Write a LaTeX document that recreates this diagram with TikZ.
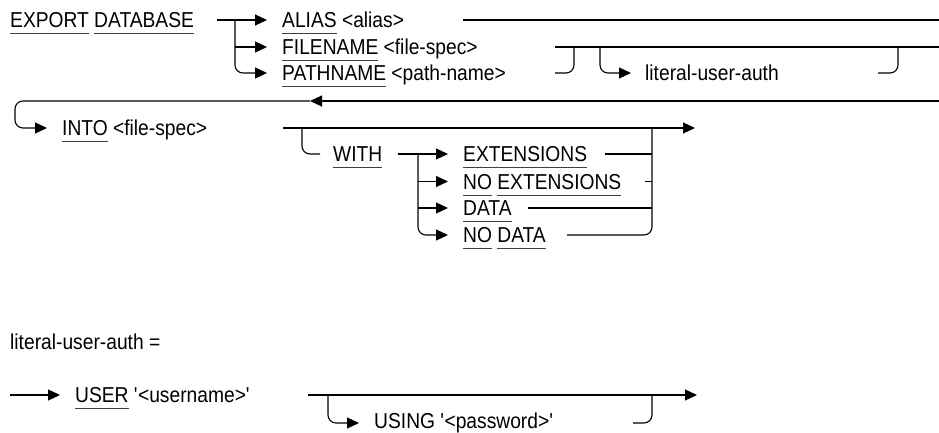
\documentclass[tikz,border=0pt]{standalone}
\usepackage{fontspec}
\setmainfont[FakeStretch=0.89]{Liberation Sans}
\usetikzlibrary{arrows.meta}
% keyword with a thin rule under it
\newcommand\kw[1]{\setbox0=\hbox{#1}\rlap{\color{black!75}\rule[-6.5pt]{\wd0}{0.9pt}}\box0\relax}
\newcommand\q{\textquotesingle}
\tikzset{
  lbl/.style={anchor=base west, inner sep=0pt, font=\fontsize{21.6}{24}\selectfont},
  rail/.style={line width=1.1pt, rounded corners=8pt},
  arr/.style={-{Triangle[length=12pt,width=11pt]}},
}
\begin{document}
\begin{tikzpicture}[x=1pt,y=-1pt]
\useasboundingbox (0,0) rectangle (939,433);

% ---------- EXPORT DATABASE ----------
\node[lbl] (exp) at (10,27.5) {\kw{EXPORT} \kw{DATABASE}};
\coordinate (s0) at (217,20);
\coordinate (b1) at (235,20);
\coordinate (b2) at (235,47);
\coordinate (a1) at (267,20);
\coordinate (a2) at (267,47);
\coordinate (a3) at (267,73);
\draw[rail,arr] (s0) -- (a1);
\draw[rail,arr] (b2) -- (a2);
\draw[rail,arr] (b1) |- (a3);

\node[lbl] (alias) at (282,27.5) {\kw{ALIAS} <alias>};
\node[lbl] (fname) at (282,54.5) {\kw{FILENAME} <file-spec>};
\node[lbl] (pname) at (282,80.5) {\kw{PATHNAME} <path-name>};

\coordinate (e1) at (463,20);  \coordinate (e1r) at (939,20);
\coordinate (e2) at (555,47);  \coordinate (e2r) at (939,47);
\coordinate (e3) at (555,73);  \coordinate (j3) at (574,47);
\draw[rail] (e1) -- (e1r);
\draw[rail] (e2) -- (e2r);
\draw[rail] (e3) -| (j3);

% optional literal-user-auth
\coordinate (b4) at (600,47);
\coordinate (a4) at (631,73);
\draw[rail,arr] (b4) |- (a4);
\node[lbl] (lua) at (645,80.5) {literal-user-auth};
\coordinate (e4) at (878,73);
\coordinate (j4) at (898,47);
\draw[rail] (e4) -| (j4);

% ---------- return line ----------
\coordinate (r0) at (939,101);
\coordinate (rm) at (310,101);
\coordinate (rc) at (15,128);
\coordinate (a5) at (47,128);
\draw[rail,arr] (r0) -- (rm);
\draw[rail,arr] (rm) -| (rc) -- (a5);

% ---------- INTO ----------
\node[lbl] (into) at (62,135.5) {\kw{INTO} <file-spec>};
\coordinate (e5) at (283,128);
\coordinate (a6) at (695,128);
\draw[rail,arr] (e5) -- (a6);
\coordinate (b6) at (302,128);
\coordinate (a7) at (320,154);
\draw[rail] (b6) |- (a7);

\node[lbl] (with) at (333,161.5) {\kw{WITH}};
\coordinate (e7) at (398,154);
\coordinate (b8) at (418,154);
\coordinate (b9) at (418,181.5);
\coordinate (b10) at (418,208);
\coordinate (a8) at (448,154);
\coordinate (a9) at (448,181.5);
\coordinate (a10) at (448,208);
\coordinate (a11) at (448,235);
\draw[rail,arr] (e7) -- (a8);
\draw[rail,arr] (b9) -- (a9);
\draw[rail,arr] (b10) -- (a10);
\draw[rail,arr] (b8) |- (a11);

\node[lbl] (ext)   at (463,161.5) {\kw{EXTENSIONS}};
\node[lbl] (noext) at (463,189) {\kw{NO} \kw{EXTENSIONS}};
\node[lbl] (data)  at (463,215.5) {\kw{DATA}};
\node[lbl] (nodat) at (463,242.5) {\kw{NO} \kw{DATA}};

\coordinate (x1) at (605,154);   \coordinate (v1) at (652,154);
\coordinate (x2) at (645,181.5); \coordinate (v2) at (652,181.5);
\coordinate (x3) at (528,208);   \coordinate (v3) at (652,208);
\coordinate (x4) at (567,235);   \coordinate (v4) at (652,128);
\draw[rail] (x1) -- (v1);
\draw[rail] (x2) -- (v2);
\draw[rail] (x3) -- (v3);
\draw[rail] (x4) -| (v4);

% ---------- literal-user-auth definition ----------
\node[lbl] (def) at (10,349.5) {literal-user-auth =};
\coordinate (u0) at (10,395);
\coordinate (u1) at (60,395);
\draw[rail,arr] (u0) -- (u1);
\node[lbl] (user) at (75,402.5) {\kw{USER} \q<username>\q};
\coordinate (u2) at (308,395);
\coordinate (u3) at (697,395);
\draw[rail,arr] (u2) -- (u3);
\coordinate (ub) at (328,395);
\coordinate (u4) at (359,423);
\draw[rail,arr] (ub) |- (u4);
\node[lbl] (using) at (374,428.5) {USING \q<password>\q};
\coordinate (u5) at (633,423);
\coordinate (uj) at (652,395);
\draw[rail] (u5) -| (uj);
\end{tikzpicture}
\end{document}
